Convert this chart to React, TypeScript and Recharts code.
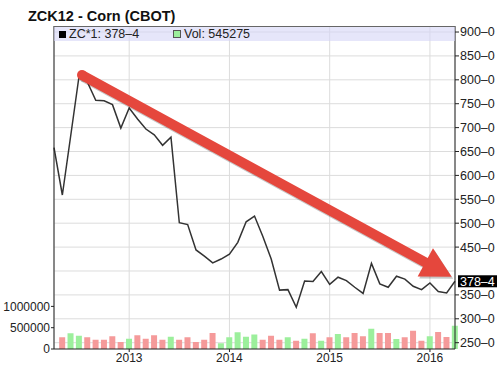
import { ComposedChart, Line, Bar, Cell, XAxis, YAxis, CartesianGrid, ReferenceLine, Legend } from "recharts";

// monthly closes, Apr 2012 .. Apr 2016 (x = month index 0..48)
const closes = [
  658, 559, 683, 808, 795, 757, 756, 748, 699, 741,
  718, 697, 685, 663, 680, 501, 497, 444, 431, 417,
  425, 435, 460, 503, 515, 472, 425, 360, 361, 324,
  379, 378, 399, 372, 387, 380, 366, 353, 416, 373,
  366, 389, 383, 368, 361, 375, 357, 354, 378.5,
];
const volumes = [
  null, 274000, 368000, 313000, 274000, 219000, 219000, 297000, 164000, 242000,
  321000, 242000, 321000, 219000, 289000, 219000, 274000, 164000, 219000, 376000,
  133000, 274000, 391000, 289000, 340000, 219000, 313000, 219000, 274000, 195000,
  242000, 368000, 195000, 274000, 352000, 274000, 376000, 297000, 477000, 376000,
  376000, 235000, 274000, 430000, 195000, 297000, 399000, 282000, 545275,
];

const yearTicks = [9, 21, 33, 45];
const yearLabels = ["2013", "2014", "2015", "2016"];
const gridPrices = [250, 300, 350, 400, 450, 500, 550, 600, 650, 700, 750, 800, 850, 900];
const priceTicks = [250, 300, 350, 450, 500, 550, 600, 650, 700, 750, 800, 850, 900]; // 400 sits under the last-price tag
const volTicks = [0, 500000, 1000000];

const lastPrice = 378.5;
const lastLabel = "378–4";
const lastVol = 545275;
const trend = [{ x: 3.35, y: 810 }, { x: 47.6, y: 388 }];

const data = closes.map((c, i) => ({ i, close: c, vol: volumes[i] }));

const UP = "#9cef9c";
const DOWN = "#f59a9a";
const FONT = "'Liberation Sans', Arial, sans-serif";

function TrendArrow(props: any) {
  const { x1, y1, x2, y2 } = props;
  const dx = x2 - x1, dy = y2 - y1;
  const len = Math.hypot(dx, dy);
  const ux = dx / len, uy = dy / len, nx = -uy, ny = ux;
  const head = 30, hw = 16, sw = 5;
  const bx = x2 - ux * head, by = y2 - uy * head;
  const pts = [
    [x1 + nx * sw, y1 + ny * sw],
    [bx + nx * sw, by + ny * sw],
    [bx + nx * hw, by + ny * hw],
    [x2, y2],
    [bx - nx * hw, by - ny * hw],
    [bx - nx * sw, by - ny * sw],
    [x1 - nx * sw, y1 - ny * sw],
  ].map((p) => p.join(",")).join(" ");
  return (
    <g>
      <g transform="translate(1.5,2)" fill="rgba(0,0,0,0.22)">
        <polygon points={pts} />
        <circle cx={x1} cy={y1} r={sw} />
      </g>
      <g fill="#e5473d">
        <polygon points={pts} />
        <circle cx={x1} cy={y1} r={sw} />
      </g>
    </g>
  );
}

function PriceTag(props: any) {
  const { viewBox } = props;
  const x = viewBox.x + viewBox.width + 3;
  const y = viewBox.y;
  return (
    <g>
      <rect x={x} y={y - 6} width={39} height={12} fill="#000" />
      <text x={x + 2} y={y + 4.5} fontSize={12.5} fill="#fff">{lastLabel}</text>
    </g>
  );
}

function TopLegend() {
  return (
    <div style={{ display: "flex", alignItems: "center", height: 14, fontSize: 12.5, color: "#222", background: "rgba(214,214,246,0.6)", borderTop: "1px solid #666", paddingLeft: 5, fontFamily: FONT }}>
      <span style={{ display: "inline-block", width: 7, height: 7, background: "#000", marginRight: 3 }} />
      <span style={{ width: 104 }}>ZC*1: {lastLabel}</span>
      <span style={{ display: "inline-block", width: 6, height: 6, background: UP, border: "1px solid #555", marginRight: 3 }} />
      <span>Vol: {lastVol}</span>
    </div>
  );
}

export default function App() {
  return (
    <div style={{ position: "absolute", left: 0, top: 0, width: 499, height: 366, background: "#fff", fontFamily: FONT }}>
      <div style={{ position: "absolute", left: 28, top: 8, fontSize: 14.5, fontWeight: "bold", color: "#111" }}>ZCK12 - Corn (CBOT)</div>
      <ComposedChart width={499} height={366} data={data} margin={{ top: 26, right: 0, bottom: 0, left: 0 }}>
        <CartesianGrid yAxisId="price" stroke="#dcdcdc" horizontalValues={gridPrices} />
        <XAxis
          dataKey="i"
          type="number"
          domain={[0, 48]}
          ticks={yearTicks}
          tickFormatter={(v) => yearLabels[yearTicks.indexOf(v)]}
          height={17}
          tickSize={3}
          tickMargin={1}
          axisLine={{ stroke: "#222" }}
          tickLine={{ stroke: "#222" }}
          tick={{ fontSize: 12, fill: "#222" }}
        />
        <YAxis
          yAxisId="vol"
          orientation="left"
          width={54}
          domain={[0, 7580000]}
          ticks={volTicks}
          allowDataOverflow
          tickSize={3}
          tickMargin={1}
          axisLine={{ stroke: "#222" }}
          tickLine={{ stroke: "#222" }}
          tick={{ fontSize: 12, fill: "#222" }}
        />
        <YAxis
          yAxisId="price"
          orientation="right"
          width={44}
          domain={[236.8, 912.6]}
          ticks={priceTicks}
          allowDataOverflow
          interval={0}
          tickFormatter={(v) => `${v}–0`}
          tickSize={4}
          tickMargin={1}
          axisLine={{ stroke: "#222" }}
          tickLine={{ stroke: "#222" }}
          tick={{ fontSize: 12.5, fill: "#222" }}
        />
        <Legend
          layout="vertical"
          align="center"
          verticalAlign="middle"
          wrapperStyle={{ top: 26, left: 54, width: 401, height: 14 }}
          content={() => <TopLegend />}
        />
        <Bar yAxisId="vol" dataKey="vol" barSize={6} isAnimationActive={false}>
          {data.map((d, i) => (
            <Cell key={i} fill={i > 0 && d.close > closes[i - 1] ? UP : DOWN} />
          ))}
        </Bar>
        <Line yAxisId="price" dataKey="close" stroke="#333" strokeWidth={1.5} dot={false} isAnimationActive={false} />
        <ReferenceLine yAxisId="price" segment={trend} ifOverflow="visible" shape={(p: any) => <TrendArrow {...p} />} />
        <ReferenceLine yAxisId="price" y={lastPrice} stroke="none" ifOverflow="visible" label={(p: any) => <PriceTag {...p} />} />
      </ComposedChart>
    </div>
  );
}
